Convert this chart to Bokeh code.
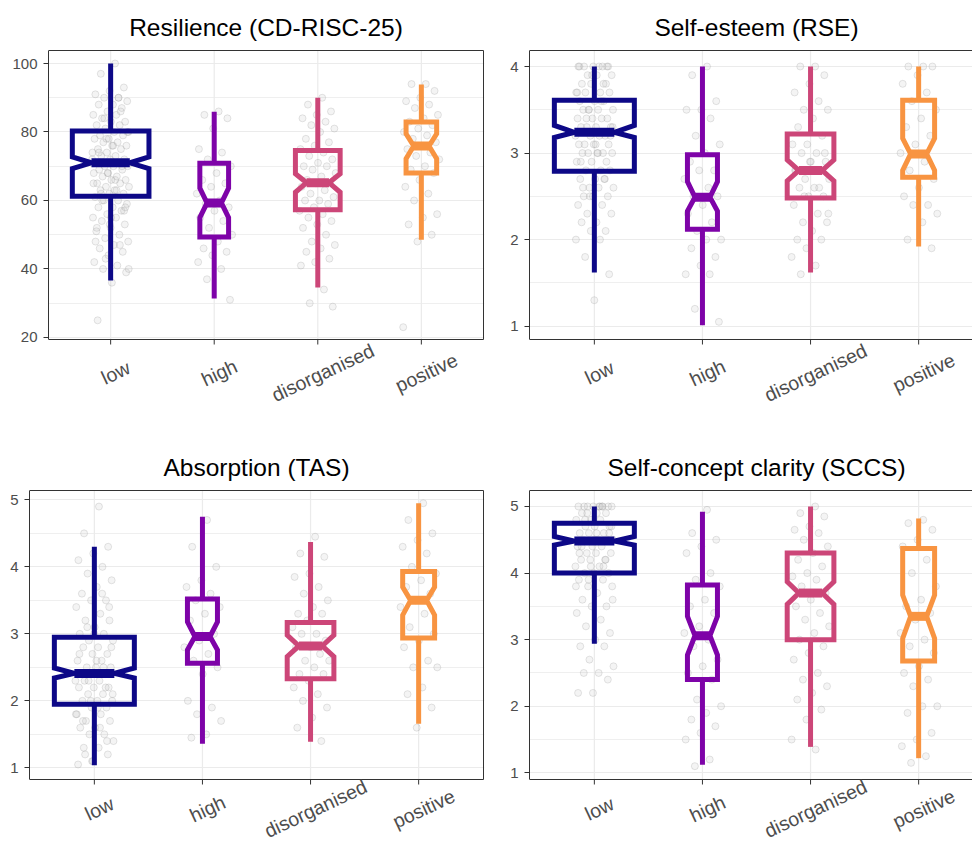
import math
from bokeh.plotting import figure
from bokeh.layouts import column, row
from bokeh.models import Label, FixedTicker, Range1d
from bokeh.embed import file_html
from bokeh.resources import INLINE

# ---------------- data ----------------
groups = ["low", "high", "disorganised", "positive"]
group_colors = ["#0D0887", "#7E03A8", "#CC4678", "#F89441"]
group_n = [270, 38, 92, 43]

# Resilience (CD-RISC-25)
res_title = "Resilience (CD-RISC-25)"
res_whisker_lo = [36.6, 31.4, 34.6, 48.5]
res_q1 = [61.2, 49.3, 57.3, 68.0]
res_notch_lo = [69.3, 55.0, 62.4, 72.2]
res_median = [71.0, 59.3, 65.2, 75.9]
res_notch_hi = [72.7, 63.6, 67.8, 79.5]
res_q3 = [80.3, 70.9, 74.6, 82.9]
res_whisker_hi = [100.0, 85.9, 90.0, 93.9]
res_ticks = [20, 40, 60, 80, 100]
res_limits = [19.4, 103.8]
res_pts_low = [100, 97, 93, 92, 91, 90, 90, 89, 88, 88, 87, 86, 85, 85, 84, 83, 83, 82, 82, 81,
               80, 80, 79, 79, 78, 78, 77, 77, 76, 76, 75, 75, 74, 74, 73, 73, 72, 72, 71, 71,
               70, 70, 70, 69, 69, 68, 68, 67, 67, 66, 66, 65, 65, 64, 64, 63, 63, 62, 62, 61,
               60, 60, 59, 58, 58, 57, 56, 55, 55, 54, 53, 52, 51, 50, 49, 48, 47, 46, 45, 44,
               42, 41, 40, 39, 36, 25, 86, 78, 72, 66, 62, 57, 53, 48, 90, 84, 80, 76, 74, 70,
               68, 65, 63, 60, 58, 55, 52, 47, 43, 40]
res_pts_high = [86, 85, 84, 81, 75, 74, 72, 70, 68, 66, 65, 64, 62, 60, 59, 58, 57, 55, 54, 52,
                50, 48, 46, 45, 44, 42, 40, 37, 31]
res_pts_dis = [90, 88, 86, 85, 84, 83, 82, 81, 80, 78, 77, 76, 75, 74, 73, 72, 71, 70, 70, 69,
               68, 67, 66, 65, 65, 64, 63, 62, 61, 60, 60, 59, 58, 57, 56, 55, 54, 53, 52, 50,
               48, 47, 46, 45, 43, 42, 41, 34, 30, 29]
res_pts_pos = [94, 94, 92, 90, 89, 88, 87, 85, 84, 83, 82, 81, 80, 79, 78, 77, 76, 75, 74, 73,
               72, 70, 69, 68, 66, 64, 62, 60, 56, 55, 53, 50, 48, 23]

# Self-esteem (RSE)
rse_title = "Self-esteem (RSE)"
rse_whisker_lo = [1.62, 1.01, 1.62, 1.92]
rse_q1 = [2.79, 2.12, 2.48, 2.72]
rse_notch_lo = [3.18, 2.33, 2.68, 2.80]
rse_median = [3.24, 2.49, 2.80, 2.99]
rse_notch_hi = [3.32, 2.67, 2.92, 3.17]
rse_q3 = [3.61, 2.98, 3.22, 3.61]
rse_whisker_hi = [4.0, 4.0, 4.0, 4.0]
rse_ticks = [1, 2, 3, 4]
rse_limits = [0.846, 4.185]
rse_pts_low = [4.0, 4.0, 4.0, 4.0, 4.0, 4.0, 3.9, 3.9, 3.9, 3.8, 3.8, 3.8, 3.7, 3.7, 3.7, 3.7,
               3.6, 3.6, 3.6, 3.5, 3.5, 3.5, 3.5, 3.4, 3.4, 3.4, 3.4, 3.3, 3.3, 3.3, 3.3, 3.2,
               3.2, 3.2, 3.2, 3.1, 3.1, 3.1, 3.1, 3.0, 3.0, 3.0, 3.0, 3.0, 2.9, 2.9, 2.9, 2.8,
               2.8, 2.8, 2.7, 2.7, 2.7, 2.6, 2.6, 2.6, 2.5, 2.5, 2.5, 2.4, 2.4, 2.3, 2.3, 2.2,
               2.2, 2.1, 2.1, 2.0, 2.0, 1.8, 1.6, 1.3, 4.0, 3.8, 3.5, 3.3, 3.0, 2.6, 4.0, 3.9,
               3.7, 3.6, 3.4, 3.2, 3.1, 2.9, 2.7, 2.5]
rse_pts_high = [4.0, 3.9, 3.6, 3.5, 3.5, 3.4, 3.2, 3.1, 3.0, 2.9, 2.8, 2.8, 2.7, 2.6, 2.5, 2.5,
                2.4, 2.3, 2.2, 2.1, 2.0, 2.0, 1.9, 1.8, 1.7, 1.6, 1.6, 1.2, 1.05]
rse_pts_dis = [4.0, 4.0, 3.9, 3.8, 3.7, 3.6, 3.5, 3.5, 3.4, 3.3, 3.2, 3.1, 3.1, 3.0, 3.0, 2.9,
               2.9, 2.8, 2.8, 2.7, 2.7, 2.6, 2.6, 2.5, 2.5, 2.4, 2.3, 2.2, 2.2, 2.1, 2.0, 2.0,
               1.9, 1.8, 1.7, 1.6, 3.0, 2.9, 2.8, 2.6, 2.5, 2.3]
rse_pts_pos = [4.0, 4.0, 4.0, 3.9, 3.8, 3.7, 3.6, 3.5, 3.4, 3.3, 3.2, 3.1, 3.0, 2.9, 2.8, 2.7,
               2.6, 2.5, 2.4, 2.4, 2.3, 2.2, 2.0, 1.9]

# Absorption (TAS)
tas_title = "Absorption (TAS)"
tas_whisker_lo = [1.04, 1.36, 1.39, 1.66]
tas_q1 = [1.95, 2.56, 2.33, 2.94]
tas_notch_lo = [2.34, 2.76, 2.66, 3.28]
tas_median = [2.41, 2.96, 2.82, 3.50]
tas_notch_hi = [2.49, 3.18, 2.98, 3.70]
tas_q3 = [2.95, 3.52, 3.17, 3.93]
tas_whisker_hi = [4.30, 4.75, 4.37, 4.95]
tas_ticks = [1, 2, 3, 4, 5]
tas_limits = [0.826, 5.14]
tas_pts_low = [4.9, 4.5, 4.3, 4.2, 4.1, 4.0, 3.9, 3.8, 3.7, 3.6, 3.5, 3.5, 3.4, 3.3, 3.2, 3.2,
               3.1, 3.0, 3.0, 2.9, 2.9, 2.8, 2.8, 2.7, 2.7, 2.6, 2.6, 2.5, 2.5, 2.5, 2.4, 2.4,
               2.4, 2.3, 2.3, 2.3, 2.2, 2.2, 2.2, 2.1, 2.1, 2.0, 2.0, 2.0, 1.9, 1.9, 1.8, 1.8,
               1.7, 1.7, 1.6, 1.6, 1.5, 1.5, 1.4, 1.3, 1.3, 1.2, 1.1, 1.05, 3.6, 3.1, 2.8, 2.6,
               2.4, 2.2, 2.0, 1.8, 1.6, 1.2, 3.4, 3.0, 2.7, 2.5, 2.3, 2.1, 1.9, 1.7, 1.4, 1.1]
tas_pts_high = [4.7, 4.3, 4.0, 3.8, 3.7, 3.6, 3.5, 3.4, 3.3, 3.2, 3.0, 2.9, 2.8, 2.7, 2.6, 2.5,
                2.4, 2.0, 1.9, 1.8, 1.7, 1.5, 1.45]
tas_pts_dis = [4.45, 4.2, 4.15, 3.9, 3.85, 3.7, 3.6, 3.5, 3.4, 3.3, 3.3, 3.2, 3.1, 3.0, 3.0,
               2.9, 2.8, 2.8, 2.7, 2.6, 2.6, 2.5, 2.4, 2.4, 2.3, 2.2, 2.1, 2.0, 1.9, 1.75, 1.6,
               1.4]
tas_pts_pos = [4.95, 4.7, 4.5, 4.4, 4.3, 4.2, 4.0, 3.9, 3.8, 3.7, 3.6, 3.5, 3.4, 3.3, 3.1, 3.0,
               2.9, 2.8, 2.6, 2.5, 2.5, 2.2, 2.1, 1.9, 1.6]

# Self-concept clarity (SCCS)
sccs_title = "Self-concept clarity (SCCS)"
sccs_whisker_lo = [2.94, 1.12, 1.39, 1.22]
sccs_q1 = [4.00, 2.40, 3.00, 2.68]
sccs_notch_lo = [4.42, 2.77, 3.53, 3.02]
sccs_median = [4.48, 3.06, 3.70, 3.35]
sccs_notch_hi = [4.55, 3.35, 3.87, 3.67]
sccs_q3 = [4.75, 3.82, 4.30, 4.37]
sccs_whisker_hi = [5.0, 4.92, 5.0, 4.82]
sccs_ticks = [1, 2, 3, 4, 5]
sccs_limits = [0.9, 5.24]
sccs_pts_low = [5.0, 5.0, 5.0, 5.0, 5.0, 5.0, 5.0, 5.0, 4.9, 4.9, 4.9, 4.8, 4.8, 4.8, 4.7, 4.7,
                4.7, 4.6, 4.6, 4.6, 4.5, 4.5, 4.5, 4.5, 4.4, 4.4, 4.4, 4.3, 4.3, 4.3, 4.2, 4.2,
                4.2, 4.1, 4.1, 4.0, 4.0, 4.0, 3.9, 3.9, 3.8, 3.8, 3.7, 3.6, 3.5, 3.5, 3.4, 3.3,
                3.2, 3.1, 3.0, 2.9, 2.9, 2.7, 2.6, 2.5, 2.5, 2.4, 2.2, 2.2, 5.0, 4.9, 4.7, 4.6,
                4.4, 4.2, 4.1, 3.8, 5.0, 4.8, 4.6, 4.5, 4.3, 4.1, 3.9, 3.6]
sccs_pts_high = [4.95, 4.6, 4.5, 4.4, 4.3, 4.0, 3.9, 3.8, 3.6, 3.5, 3.4, 3.2, 3.1, 3.0, 2.9,
                 2.7, 2.6, 2.5, 2.4, 2.1, 2.0, 1.9, 1.8, 1.7, 1.6, 1.5, 1.2, 1.1]
sccs_pts_dis = [5.0, 4.9, 4.85, 4.7, 4.65, 4.6, 4.5, 4.4, 4.3, 4.2, 4.1, 4.0, 3.95, 3.9, 3.8,
                3.7, 3.6, 3.5, 3.4, 3.3, 3.2, 3.1, 3.0, 2.9, 2.8, 2.7, 2.5, 2.4, 2.3, 2.2, 2.1,
                1.95, 1.8, 1.5, 1.35]
sccs_pts_pos = [4.8, 4.75, 4.65, 4.5, 4.4, 4.2, 4.0, 3.8, 3.6, 3.5, 3.4, 3.3, 3.1, 3.0, 2.9,
                2.8, 2.6, 2.5, 2.4, 2.3, 2.0, 2.0, 1.9, 1.6, 1.5, 1.4, 1.25, 1.15]

# ---------------- styling / layout ----------------
FONT = "Liberation Sans"
FRAME = "#333333"
GRID = "#EBEBEB"
TICKTXT = "#4D4D4D"
MAX_BOX_W = 0.74
JITTER_W = 0.36
X_LO, X_HI = 0.4, 4.6


def jitter(k):
    return JITTER_W * (((k + 1) * 0.6180339887) % 1.0 - 0.5)


def make_panel(title, wlo, q1, nlo, med, nhi, q3, whi, pts, ticks, limits,
               width, height, border_left, border_right, panel_top, panel_bottom, panel_w,
               label_drop):
    # panel_top / panel_bottom: pixel rows (from figure top) of the data panel
    ylo, yhi = limits
    s = (yhi - ylo) / (panel_bottom - panel_top)
    y_start = ylo - (height - panel_bottom) * s
    y_end = yhi + panel_top * s
    frame_w = width - border_left - border_right
    sx = (X_HI - X_LO) / panel_w
    x_end = X_LO + frame_w * sx

    p = figure(width=width, height=height, x_range=Range1d(X_LO, x_end),
               y_range=Range1d(y_start, y_end), output_backend="svg",
               toolbar_location=None, x_axis_location=None,
               min_border_left=border_left, min_border_right=border_right,
               min_border_top=0, min_border_bottom=0,
               background_fill_color="white", border_fill_color="white")
    p.outline_line_color = None
    p.xgrid.visible = False

    minor = [(a + b) / 2 for a, b in zip(ticks[:-1], ticks[1:])]
    yt = FixedTicker(ticks=ticks, minor_ticks=minor)
    p.yaxis.ticker = yt
    p.ygrid.ticker = yt
    p.ygrid.grid_line_color = GRID
    p.ygrid.grid_line_width = 1.2
    p.ygrid.minor_grid_line_color = GRID
    p.ygrid.minor_grid_line_width = 0.8

    ax = p.yaxis[0]
    ax.bounds = (ylo, yhi)
    ax.axis_line_color = FRAME
    ax.axis_line_width = 1
    ax.major_tick_out = 5
    ax.major_tick_in = 0
    ax.major_tick_line_color = FRAME
    ax.minor_tick_line_color = None
    ax.major_label_text_font = FONT
    ax.major_label_text_color = TICKTXT
    ax.major_label_text_font_size = "15px"
    ax.major_label_standoff = 6

    centers = [1, 2, 3, 4]
    # vertical grid lines at the categories (inside the panel only)
    p.segment(x0=centers, y0=[ylo] * 4, x1=centers, y1=[yhi] * 4,
              line_color=GRID, line_width=1.2)

    # jittered raw points
    for gi, vals in enumerate(pts):
        xs = [gi + 1 + jitter(k) for k in range(len(vals))]
        p.scatter(xs, vals, size=7, marker="circle", fill_color="#BDBDBD", fill_alpha=0.16,
                  line_color="#9A9A9A", line_alpha=0.32, line_width=0.8)

    nmax = max(group_n)
    box_xs, box_ys, mx0, mx1 = [], [], [], []
    for gi in range(4):
        c = gi + 1
        w = MAX_BOX_W * math.sqrt(group_n[gi] / nmax)
        xl, xr = c - w / 2, c + w / 2
        nl, nr = c - w / 4, c + w / 4
        box_xs.append([xl, xl, nl, xl, xl, xr, xr, nr, xr, xr])
        box_ys.append([q3[gi], nhi[gi], med[gi], nlo[gi], q1[gi],
                       q1[gi], nlo[gi], med[gi], nhi[gi], q3[gi]])
        mx0.append(nl)
        mx1.append(nr)
    p.segment(x0=centers, y0=q3, x1=centers, y1=whi, line_color=group_colors,
              line_width=5, line_cap="butt")
    p.segment(x0=centers, y0=q1, x1=centers, y1=wlo, line_color=group_colors,
              line_width=5, line_cap="butt")
    p.patches(box_xs, box_ys, fill_color=None, line_color=group_colors, line_width=5,
              line_join="miter")
    p.segment(x0=mx0, y0=med, x1=mx1, y1=med, line_color=group_colors, line_width=9,
              line_cap="butt")

    # panel border (top, bottom, right) and x ticks
    p.segment(x0=[X_LO, X_LO, X_HI], y0=[yhi, ylo, ylo], x1=[X_HI, X_HI, X_HI],
              y1=[yhi, ylo, yhi], line_color=FRAME, line_width=1)
    p.ray(x=centers, y=[ylo] * 4, length=5, length_units="screen", angle=-math.pi / 2,
          line_color=FRAME, line_width=1)

    # title and category labels
    p.add_layout(Label(x=(X_LO + X_HI) / 2, y=yhi, y_offset=23, text=title,
                       text_align="center", text_baseline="middle", text_font=FONT,
                       text_font_size="24.5px", text_color="black"))
    for gi, g in enumerate(groups):
        p.add_layout(Label(x=gi + 1, y=ylo, x_offset=5, y_offset=-label_drop, text=g,
                           angle=math.radians(25), text_align="center",
                           text_baseline="middle", text_font=FONT,
                           text_font_size="19.5px", text_color=TICKTXT))
    return p


p1 = make_panel(res_title, res_whisker_lo, res_q1, res_notch_lo, res_median, res_notch_hi,
                res_q3, res_whisker_hi, [res_pts_low, res_pts_high, res_pts_dis, res_pts_pos],
                res_ticks, res_limits, 486, 421, 48, 2, 50, 339, 435, 33)
p2 = make_panel(rse_title, rse_whisker_lo, rse_q1, rse_notch_lo, rse_median, rse_notch_hi,
                rse_q3, rse_whisker_hi, [rse_pts_low, rse_pts_high, rse_pts_dis, rse_pts_pos],
                rse_ticks, rse_limits, 486, 421, 43, 0, 50, 339, 454, 33)
p3 = make_panel(tas_title, tas_whisker_lo, tas_q1, tas_notch_lo, tas_median, tas_notch_hi,
                tas_q3, tas_whisker_hi, [tas_pts_low, tas_pts_high, tas_pts_dis, tas_pts_pos],
                tas_ticks, tas_limits, 486, 421, 29, 2, 69, 358, 454, 29)
p4 = make_panel(sccs_title, sccs_whisker_lo, sccs_q1, sccs_notch_lo, sccs_median,
                sccs_notch_hi, sccs_q3, sccs_whisker_hi,
                [sccs_pts_low, sccs_pts_high, sccs_pts_dis, sccs_pts_pos],
                sccs_ticks, sccs_limits, 486, 421, 43, 0, 69, 358, 454, 29)

layout = column(row(p1, p2), row(p3, p4))
open("out.html", "w").write(file_html(layout, INLINE))
